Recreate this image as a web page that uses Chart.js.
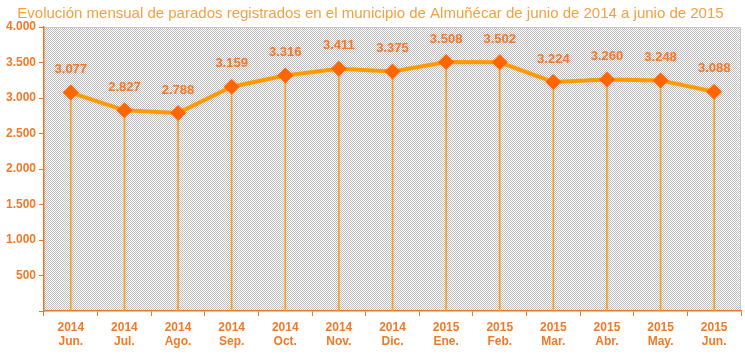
<!DOCTYPE html>
<html><head><meta charset="utf-8">
<script src="https://cdn.jsdelivr.net/npm/chart.js@4/dist/chart.umd.min.js"></script>
<style>html,body{margin:0;padding:0;background:#fff}#w{width:745px;height:356px}</style>
</head><body><div id="w"><canvas id="c" width="745" height="356"></canvas></div>
<script>
const titleText = "Evolución mensual de parados registrados en el municipio de Almuñécar de junio de 2014 a junio de 2015";
const years = ["2014","2014","2014","2014","2014","2014","2014","2015","2015","2015","2015","2015","2015"];
const months = ["Jun.","Jul.","Ago.","Sep.","Oct.","Nov.","Dic.","Ene.","Feb.","Mar.","Abr.","May.","Jun."];
const parados = [3077, 2827, 2788, 3159, 3316, 3411, 3375, 3508, 3502, 3224, 3260, 3248, 3088];
const yTicks = [0, 500, 1000, 1500, 2000, 2500, 3000, 3500, 4000];

const labels = years.map((y, i) => [y, months[i]]);
const fmt = v => v.toString().replace(/\B(?=(\d{3})+(?!\d))/g, ".");

const pc = document.createElement('canvas'); pc.width = 2; pc.height = 2;
const px = pc.getContext('2d');
px.fillStyle = '#ffffff'; px.fillRect(0,0,2,2);
px.fillStyle = '#bcbcbc'; px.fillRect(0,0,1,1); px.fillRect(1,1,1,1);

const bgPlugin = {
  id: 'bg',
  beforeDraw(chart) {
    const {ctx, chartArea: a} = chart;
    ctx.save();
    ctx.fillStyle = ctx.createPattern(pc, 'repeat');
    ctx.fillRect(a.left, a.top, a.right - a.left, a.bottom - a.top);
    ctx.strokeStyle = '#c8c8c8'; ctx.lineWidth = 1;
    ctx.beginPath();
    ctx.moveTo(a.left, a.top + 0.5); ctx.lineTo(a.right - 0.5, a.top + 0.5); ctx.lineTo(a.right - 0.5, a.bottom);
    ctx.stroke();
    ctx.restore();
  }
};
const lblPlugin = {
  id: 'lbl',
  afterDatasetsDraw(chart) {
    const meta = chart.getDatasetMeta(1);
    const ctx = chart.ctx;
    ctx.save();
    ctx.font = 'bold 13px "Liberation Sans", Arial, sans-serif';
    ctx.fillStyle = '#f07a2a';
    ctx.textAlign = 'center'; ctx.textBaseline = 'middle';
    meta.data.forEach((p, i) => ctx.fillText(fmt(parados[i]), p.x, p.y - 23));
    ctx.restore();
  }
};

new Chart(document.getElementById('c'), {
  data: {
    labels,
    datasets: [
      { type: 'bar', data: parados, backgroundColor: '#f5a02a', barThickness: 1, order: 2 },
      { type: 'line', data: parados, borderColor: '#ff9a00', borderWidth: 4, pointStyle: 'rectRot',
        pointRadius: 8, pointHoverRadius: 8, pointBackgroundColor: '#ff6600', pointBorderColor: '#ff6600',
        pointBorderWidth: 0, tension: 0, order: 1 }
    ]
  },
  options: {
    responsive: false, animation: false, events: [],
    layout: { autoPadding: false, padding: { top: 0, right: 4, left: 0, bottom: 0 } },
    plugins: {
      legend: { display: false }, tooltip: { enabled: false },
      title: { display: true, text: titleText, color: '#f5a040',
        font: { family: '"Liberation Sans", Arial, sans-serif', size: 15, weight: 'normal' },
        padding: { top: 5, bottom: 4 } }
    },
    scales: {
      x: {
        offset: true,
        grid: { offset: true, drawOnChartArea: false, color: '#e8782a', tickLength: 5 },
        border: { color: '#e8782a', width: 1.5 },
        ticks: { color: '#f07a2a', padding: 4, maxRotation: 0,
          font: { family: '"Liberation Sans", Arial, sans-serif', size: 12, weight: 'bold' } },
        afterFit(s) { s.height = 45; s.paddingLeft = 0; s.paddingRight = 0; }
      },
      y: {
        min: 0, max: 4000,
        afterBuildTicks(s) { s.ticks = yTicks.map(v => ({ value: v })); },
        grid: { drawOnChartArea: false, color: '#e8782a', tickLength: 5 },
        border: { color: '#e8782a', width: 1.5 },
        ticks: { color: '#f07a2a', padding: 3,
          callback: v => v === 0 ? '' : fmt(v),
          font: { family: '"Liberation Sans", Arial, sans-serif', size: 12, weight: 'bold' } },
        afterFit(s) { s.width = 44; s.paddingTop = 0; s.paddingBottom = 0; }
      }
    }
  },
  plugins: [bgPlugin, lblPlugin]
});
</script></body></html>
